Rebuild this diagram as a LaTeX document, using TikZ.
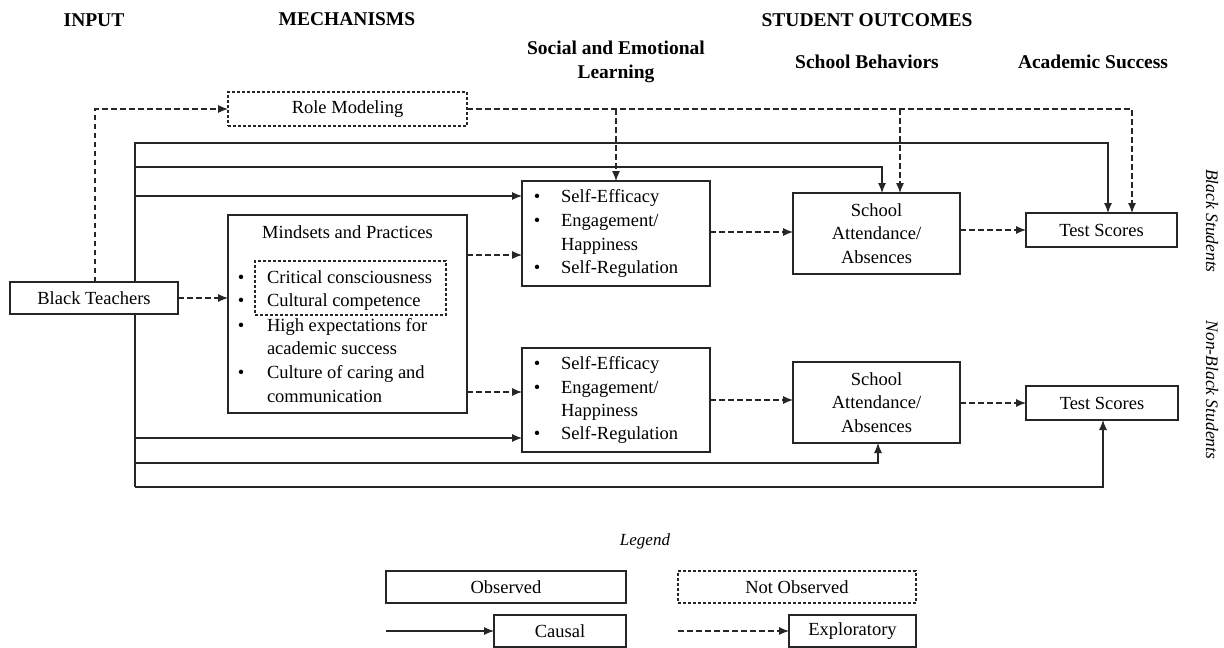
\documentclass[tikz,border=0pt]{standalone}
\usepackage{fontspec}
\setmainfont{Liberation Serif}
\usetikzlibrary{arrows.meta}
\begin{document}
\begin{tikzpicture}[x=1pt,y=-1pt,
  every node/.style={inner sep=0pt, outer sep=0pt},
  body/.style={font=\fontsize{18.5}{23.5}\selectfont},
  hd/.style={font=\fontsize{19.5}{23.5}\selectfont\bfseries, align=center},
  side/.style={font=\fontsize{17.5}{21}\selectfont\itshape, rotate=-90},
  obox/.style={draw=black!85, line width=1.1pt, body},
  nbox/.style={obox, dash pattern=on 3pt off 2pt},
  ln/.style={draw=black!85, line width=1.1pt},
  causal/.style={ln, -{Latex[length=10pt,width=8pt]}},
  expl/.style={causal, dash pattern=on 5.5pt off 3.5pt},
  bl/.style={body, anchor=base west},
  bul/.style={body, anchor=base},
]
\useasboundingbox (0,0) rectangle (1224,648);

% headers
\node[hd] (hIn) at (94,20) {INPUT};
\node[hd] (hMe) at (347,19) {MECHANISMS};
\node[hd] (hSo) at (867,20) {STUDENT OUTCOMES};
\node[hd] (hSel) at (616,62) {Social and Emotional\\Learning};
\node[hd] (hSb) at (867,62) {School Behaviors};
\node[hd] (hAc) at (1093,62) {Academic Success};

% side labels
\node[side] (sB) at (1212,221) {Black Students};
\node[side] (sN) at (1212,390) {Non-Black Students};

% boxes
\node[obox, minimum width=168, minimum height=32] (bt) at (94,298) {Black Teachers};
\node[nbox, minimum width=239, minimum height=34] (rm) at (347.5,109) {Role Modeling};
\node[obox, minimum width=239, minimum height=198] (mp) at (347.5,314) {};
\node[nbox, minimum width=191, minimum height=54] (cc) at (350.5,288) {};
\node[obox, minimum width=188, minimum height=105] (sel1) at (616,233.5) {};
\node[obox, minimum width=188, minimum height=104] (sel2) at (616,400) {};
\node[obox, minimum width=167, minimum height=81, align=center] (sa1) at (876.5,233.5) {School\\Attendance/\\Absences};
\node[obox, minimum width=167, minimum height=81, align=center] (sa2) at (876.5,402.5) {School\\Attendance/\\Absences};
\node[obox, minimum width=151, minimum height=34] (ts1) at (1101.5,230) {Test Scores};
\node[obox, minimum width=152, minimum height=34] (ts2) at (1102,403) {Test Scores};

% mindsets text
\node[body] (mpT) at (347.5,232) {Mindsets and Practices};
\node[bul] (mb1) at (241,283.5) {\textbullet};
\node[bul] (mb2) at (241,306.5) {\textbullet};
\node[bul] (mb3) at (241,331.5) {\textbullet};
\node[bul] (mb4) at (241,378.5) {\textbullet};
\node[bl] (mt1) at (267,283.5) {Critical consciousness};
\node[bl] (mt2) at (267,306.5) {Cultural competence};
\node[bl] (mt3) at (267,331.5) {High expectations for};
\node[bl] (mt4) at (267,354.5) {academic success};
\node[bl] (mt5) at (267,378.5) {Culture of caring and};
\node[bl] (mt6) at (267,402.5) {communication};

% SEL texts upper
\node[bul] (ub1) at (537,202.5) {\textbullet};
\node[bul] (ub2) at (537,226.5) {\textbullet};
\node[bul] (ub3) at (537,273.5) {\textbullet};
\node[bl] (ut1) at (561,202.5) {Self-Efficacy};
\node[bl] (ut2) at (561,226.5) {Engagement/};
\node[bl] (ut3) at (561,250) {Happiness};
\node[bl] (ut4) at (561,273.5) {Self-Regulation};
% SEL texts lower
\node[bul] (lb1) at (537,369.5) {\textbullet};
\node[bul] (lb2) at (537,393.5) {\textbullet};
\node[bul] (lb3) at (537,439.5) {\textbullet};
\node[bl] (lt1) at (561,369.5) {Self-Efficacy};
\node[bl] (lt2) at (561,393.5) {Engagement/};
\node[bl] (lt3) at (561,416.5) {Happiness};
\node[bl] (lt4) at (561,439.5) {Self-Regulation};

% trunk
\coordinate (tr) at (135,298);
\draw[causal] (bt.north -| tr) -- (tr |- 0,143) -| ([xshift=6.5pt]ts1.north);
\draw[causal] (tr |- 0,167) -| ([xshift=5.5pt]sa1.north);
\draw[causal] (tr |- 0,196) -- (sel1.west |- 0,196);
\draw[ln] (bt.south -| tr) -- (tr |- 0,487);
\draw[causal] (tr |- 0,438) -- (sel2.west |- 0,438);
\draw[causal] (tr |- 0,463) -| ([xshift=1.5pt]sa2.south);
\draw[causal] (tr |- 0,487) -| ([xshift=1pt]ts2.south);

% exploratory
\draw[expl] ([xshift=1pt]bt.north) |- (rm.west);
\draw[expl] (rm.east) -| ([xshift=30.5pt]ts1.north);
\draw[expl] (sel1.north |- rm.east) -- (sel1.north);
\draw[expl] ([xshift=23.5pt]sa1.north |- rm.east) -- ([xshift=23.5pt]sa1.north);
\draw[expl] (bt.east) -- (bt.east -| mp.west);
\draw[expl] (mp.east |- 0,255) -- (sel1.west |- 0,255);
\draw[expl] (mp.east |- 0,392) -- (sel2.west |- 0,392);
\draw[expl] (sel1.east |- 0,232) -- (sa1.west |- 0,232);
\draw[expl] (sa1.east |- ts1.west) -- (ts1.west);
\draw[expl] (sel2.east) -- (sel2.east -| sa2.west);
\draw[expl] (sa2.east |- ts2.west) -- (ts2.west);

% legend
\node[body, font=\fontsize{17}{20}\selectfont\itshape] (lg) at (645,541) {Legend};
\node[obox, minimum width=240, minimum height=32] (lo) at (506,587) {Observed};
\node[nbox, minimum width=238, minimum height=32] (lnb) at (797,587) {Not Observed};
\node[obox, minimum width=132, minimum height=32] (lc) at (560,631) {Causal};
\node[obox, minimum width=127, minimum height=32] (le) at (852.5,631) {Exploratory};
\coordinate (lcs) at (386,631);
\coordinate (les) at (678,631);
\draw[causal] (lcs) -- (lc.west);
\draw[expl] (les) -- (le.west);
\end{tikzpicture}
\end{document}
